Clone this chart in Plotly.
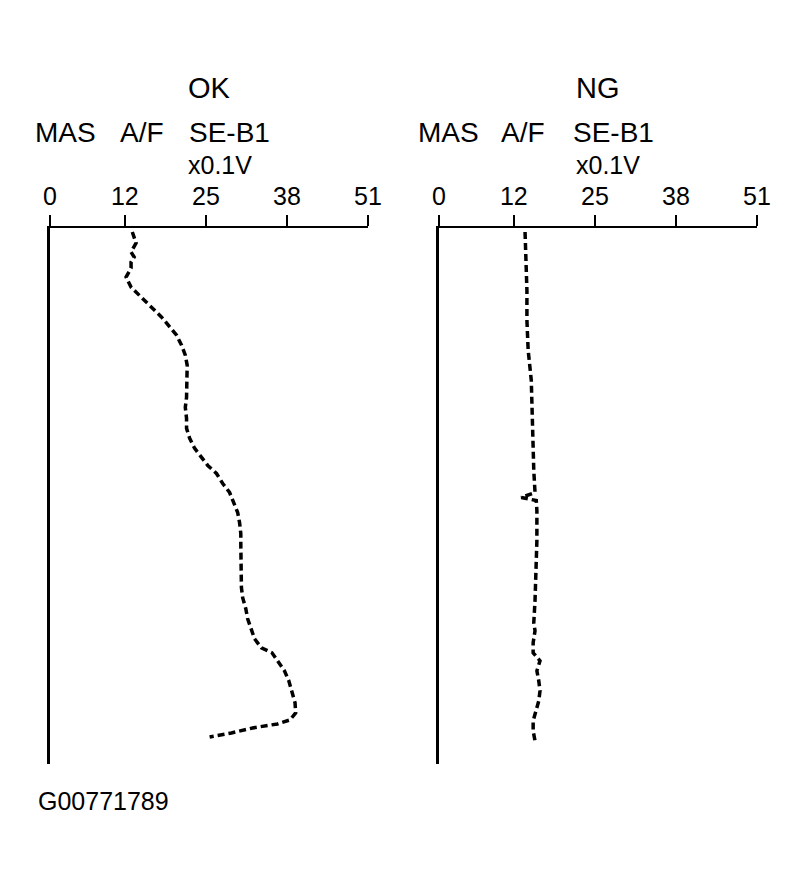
import plotly.graph_objects as go

# OK trace (MAS A/F SE-B1, x0.1V) vs. time (top = start)
ok_time = [0.8, 3.0, 4.8, 5.8, 6.8, 8.0, 9.8, 11.8, 13.4, 15.0, 16.4, 17.8, 19.6,
           21.4, 23.4, 25.4, 27.4, 29.4, 31.8, 33.8, 35.8, 38.0, 40.0, 42.0, 44.0,
           45.8, 47.4, 49.0, 51.0, 52.8, 54.8, 56.8, 58.8, 61.0, 63.0, 65.4, 67.4,
           69.8, 71.8, 73.8, 76.0, 78.0, 80.0, 82.0, 83.8, 84.8, 86.4, 88.4, 90.4,
           92.4, 94.8, 96.8, 98.2, 99.0, 99.8, 100.8, 101.6]
ok_volt = [13.2, 13.8, 13.0, 13.5, 13.0, 13.0, 12.2, 13.0, 14.3, 15.6, 16.7, 17.9, 19.1,
           20.3, 21.1, 21.7, 22.0, 22.0, 21.9, 21.9, 21.7, 21.9, 21.9, 22.4, 23.2,
           24.3, 25.3, 26.7, 27.7, 28.8, 29.4, 30.1, 30.4, 30.6, 30.6, 30.6, 30.6,
           30.6, 30.7, 30.9, 31.4, 31.7, 32.2, 32.8, 33.9, 35.6, 36.5, 37.6, 38.3,
           38.8, 39.3, 39.4, 38.5, 36.5, 32.5, 29.1, 25.6]

# NG trace
ng_time = [0.8, 6.4, 12.4, 18.4, 24.4, 30.4, 36.4, 42.4, 48.4, 52.8, 53.8, 54.4,
           56.4, 62.4, 68.4, 74.4, 78.8, 80.4, 82.8, 84.8, 86.4, 88.4, 90.4, 92.4,
           94.4, 96.4, 98.4, 100.4, 102.4]
ng_volt = [13.8, 14.0, 14.1, 14.1, 14.3, 14.8, 14.9, 15.1, 15.2, 15.4, 13.2, 15.6,
           15.7, 15.7, 15.6, 15.4, 15.2, 15.4, 15.1, 15.1, 16.2, 15.7, 16.0, 16.2,
           16.0, 15.6, 15.1, 15.1, 15.4]

tick_vals = [0, 12, 25, 38, 51]
tick_text = ["0", "12", "25", "38", "51"]

# page has an 8px body margin, so the figure is 16px smaller than the window
PAD = 8
W, H = 803 - 2 * PAD, 886 - 2 * PAD
FONT = "Liberation Sans, Arial, sans-serif"


def px(x):
    # window pixel -> paper fraction
    return (x - PAD) / W


def py(y):
    return 1 - (y - PAD) / H


fig = go.Figure()
line_style = dict(color="black", width=3.5, dash="7px,4px")
fig.add_trace(go.Scatter(x=ok_volt, y=ok_time, mode="lines", line=line_style,
                         xaxis="x", yaxis="y"))
fig.add_trace(go.Scatter(x=ng_volt, y=ng_time, mode="lines", line=line_style,
                         xaxis="x2", yaxis="y2"))

xax = dict(range=[0, 51], side="top", showline=True, linecolor="black", linewidth=2,
           ticks="outside", ticklen=11, tickwidth=2, tickcolor="black",
           tickvals=tick_vals, ticktext=tick_text, ticklabelstandoff=0,
           tickfont=dict(size=25, color="black", family=FONT), automargin=False,
           showgrid=False, zeroline=False, fixedrange=True)
yax = dict(range=[107, 0], domain=[py(764), py(228)], showline=True,
           linecolor="black", linewidth=2.5, showticklabels=False, ticks="",
           automargin=False, showgrid=False, zeroline=False, fixedrange=True)

fig.update_layout(
    template="none",
    width=W, height=H,
    margin=dict(l=0, r=0, t=0, b=0, pad=0),
    paper_bgcolor="white", plot_bgcolor="white",
    showlegend=False,
    font=dict(family=FONT, color="black"),
    xaxis=dict(xax, domain=[px(50), px(368)], anchor="y"),
    yaxis=dict(yax, anchor="x"),
    xaxis2=dict(xax, domain=[px(439), px(757)], anchor="y2"),
    yaxis2=dict(yax, anchor="x2"),
)

# panel headers
headers = [
    ("OK", 210, 88, 29), ("MAS", 66, 133, 28), ("A/F", 142, 133, 28),
    ("SE-B1", 229, 133, 28), ("x0.1V", 220, 165, 25),
    ("NG", 598, 88, 29), ("MAS", 449, 133, 28), ("A/F", 523, 133, 28),
    ("SE-B1", 613, 133, 28), ("x0.1V", 608, 165, 25),
]
for txt, x, y, s in headers:
    fig.add_annotation(text=txt, x=px(x), y=py(y), xref="paper", yref="paper",
                       xanchor="center", yanchor="middle", showarrow=False,
                       font=dict(size=s, color="black", family=FONT))

fig.add_annotation(text="G00771789", x=px(36), y=py(801), xref="paper", yref="paper",
                   xanchor="left", yanchor="middle", showarrow=False,
                   font=dict(size=25, color="black", family=FONT))

fig.write_html("out.html")
